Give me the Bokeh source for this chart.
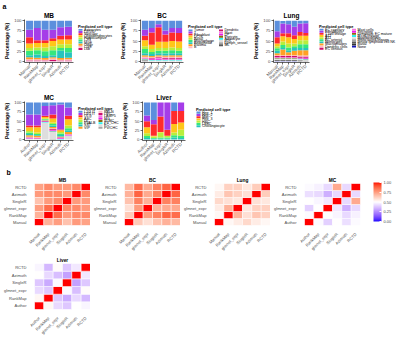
import math
from bokeh.plotting import figure
from bokeh.models import (FactorRange, Range1d, FixedTicker, Title,
                          LinearColorMapper, ColorBar, ColumnDataSource, PrintfTickFormatter)
from bokeh.core.properties import value
from bokeh.layouts import row, column
from bokeh.embed import file_html
from bokeh.resources import INLINE

FONT = "Liberation Sans"
GREY = "#4D4D4D"

# ---------------- data ----------------
methods = ["Manual", "RankMap", "glmnet_expr", "SingleR", "Azimuth", "RCTD"]
methods_author = ["Author", "RankMap", "glmnet_expr", "SingleR", "Azimuth", "RCTD"]
legend_title = "Predicted cell type"

cell_colors = ["#5B8FDD", "#A53DE8", "#FF2B2B", "#FFC61A", "#B8EE3C", "#35E67D",
               "#27C4BE", "#FFA023", "#FFB8C6", "#CC0E6C", "#F57ADB", "#EE1AEE",
               "#8A6A12", "#2EF0F0", "#DEDEDE", "#A6A6A6", "#5A5A5A", "#333333", "#1414B8"]

mb_types = ["Astrocytes", "L4/5/6", "Vascular", "Oligodendrocytes", "Hippocampus",
            "L2/3", "MGE", "Other", "CGE", "L6b"]
mb_pct = [
    [22, 18, 22, 22, 16, 15],
    [19, 30, 26, 21, 21, 21],
    [15, 7, 7, 7, 9, 10],
    [11, 11, 11, 13, 12, 12],
    [7, 7, 9, 10, 9, 9],
    [11, 10, 12, 12, 7, 11],
    [5, 8, 5, 5, 18, 13],
    [5, 4, 4, 3, 4, 4],
    [3, 3, 2, 4, 2, 3],
    [2, 2, 2, 3, 2, 2],
]

bc_types = ["Tumor", "T", "Fibroblast", "DCIS", "Basal", "Macrophage", "Endothelial",
            "Plasma", "B", "Dendritic", "Mast", "LP", "Pericyte", "Adipocyte", "pDC",
            "Lymph_vessel", "ML"]
bc_pct = [
    [22, 18, 9, 24, 18, 18],
    [15, 11, 7, 10, 11, 12],
    [11, 30, 36, 18, 21, 21],
    [15, 11, 15, 15, 16, 16],
    [7, 7, 7, 7, 7, 7],
    [10, 5, 6, 7, 7, 6],
    [5, 5, 5, 5, 5, 5],
    [4, 3, 3, 3, 4, 4],
    [2, 2, 2, 3, 3, 3],
    [1, 1, 2, 2, 2, 2],
    [1, 1, 1, 1, 1, 1],
    [1, 2, 3, 1, 1, 1],
    [1, 1, 1, 1, 1, 1],
    [1, 1, 1, 1, 1, 1],
    [1, 1, 1, 1, 1, 1],
    [1, 1, 1, 1, 1, 1],
    [2, 0, 0, 0, 0, 0],
]

lung_types = ["EC capillary", "Fibroblasts", "T cell lineage", "AT2", "AT1", "EC arterial",
              "Monocytes", "Macrophages", "Dendritic cells", "EC venous", "Mast cells",
              "Secretory", "Lymphatic EC mature", "B cell lineage", "Myofibroblasts",
              "Multiciliated lineage", "Innate lymphoid cell NK", "Basal", "None"]
lung_pct = [
    [26, 6, 9, 15, 7, 6],
    [15, 24, 22, 21, 21, 24],
    [15, 7, 10, 9, 9, 7],
    [7, 13, 15, 11, 11, 11],
    [5, 9, 10, 7, 10, 10],
    [6, 7, 7, 4, 9, 9],
    [6, 4, 5, 7, 6, 6],
    [5, 14, 7, 11, 13, 13],
    [2, 2, 2, 2, 2, 2],
    [3, 3, 3, 3, 3, 3],
    [1, 1, 1, 1, 1, 1],
    [1, 1, 1, 1, 1, 2],
    [1, 1, 1, 1, 1, 1],
    [1, 1, 1, 1, 1, 1],
    [2, 2, 2, 2, 2, 2],
    [1, 1, 1, 1, 1, 1],
    [1, 1, 1, 1, 1, 1],
    [1, 1, 1, 1, 1, 0],
    [1, 1, 1, 1, 0, 0],
]

mc_types = ["L2/3 IT", "L4/5 IT", "OLG", "ASC", "L6", "PVALB", "SST", "VIP",
            "RELN", "OPC", "LAMP5", "MG", "VLMC", "PV_CHC", "EC", "PV/CHC"]
mc_pct = [
    [32, 32, 9, 7, 5, 13],
    [30, 30, 27, 25, 68, 23],
    [5, 5, 3, 11, 2, 9],
    [10, 14, 4, 11, 5, 17],
    [4, 4, 2, 4, 4, 8],
    [4, 3, 2, 4, 4, 5],
    [4, 2, 1, 4, 4, 5],
    [4, 4, 1, 4, 2, 5],
    [2, 2, 1, 2, 1, 2],
    [1, 1, 1, 2, 1, 1],
    [1, 1, 0, 1, 1, 1],
    [1, 1, 1, 2, 2, 1],
    [0, 0, 1, 1, 0, 0],
    [1, 0, 1, 1, 1, 0],
    [1, 1, 46, 20, 0, 10],
    [0, 0, 0, 1, 0, 0],
]

liver_types = ["Hep_1", "Hep_2", "Mac", "Hep_3", "HSC", "LSEC", "Cholangiocyte"]
liver_pct = [
    [35, 47, 0, 0, 23, 0],
    [16, 12, 38, 74, 0, 23],
    [16, 31, 42, 16, 35, 31],
    [16, 2, 1, 1, 23, 20],
    [8, 4, 14, 4, 8, 16],
    [5, 2, 3, 3, 6, 6],
    [4, 2, 2, 2, 5, 4],
]

# correlation matrices (rows = y category, cols = x category)
mb_corr = [
    [1.00, 0.70, 0.75, 0.66, 0.76, 0.74],
    [0.70, 1.00, 0.86, 0.76, 0.80, 0.80],
    [0.75, 0.86, 1.00, 0.80, 0.80, 0.76],
    [0.66, 0.76, 0.80, 1.00, 0.76, 0.76],
    [0.76, 0.80, 0.80, 0.76, 1.00, 0.80],
    [0.74, 0.80, 0.76, 0.76, 0.80, 1.00],
]
bc_corr = [
    [1.00, 0.64, 0.58, 0.66, 0.70, 0.68],
    [0.64, 1.00, 0.76, 0.82, 0.88, 0.86],
    [0.58, 0.76, 1.00, 0.70, 0.72, 0.72],
    [0.66, 0.82, 0.70, 1.00, 0.82, 0.82],
    [0.70, 0.88, 0.72, 0.82, 1.00, 0.88],
    [0.68, 0.86, 0.72, 0.82, 0.88, 1.00],
]
lung_corr = [
    [1.00, 0.52, 0.55, 0.60, 0.55, 0.52],
    [0.52, 1.00, 0.70, 0.58, 0.65, 0.62],
    [0.55, 0.70, 1.00, 0.56, 0.62, 0.62],
    [0.60, 0.58, 0.56, 1.00, 0.58, 0.56],
    [0.55, 0.65, 0.62, 0.58, 1.00, 0.63],
    [0.52, 0.62, 0.62, 0.56, 0.63, 1.00],
]
mc_corr = [
    [1.00, 0.49, 0.40, 0.50, 0.43, 0.49],
    [0.49, 1.00, 0.50, 0.48, 0.42, 0.47],
    [0.40, 0.50, 1.00, 0.45, 0.33, 0.42],
    [0.50, 0.48, 0.45, 1.00, 0.42, 0.72],
    [0.43, 0.42, 0.33, 0.42, 1.00, 0.42],
    [0.49, 0.47, 0.42, 0.72, 0.42, 1.00],
]
liver_corr = [
    [1.00, 0.52, 0.42, 0.38, 0.50, 0.48],
    [0.52, 1.00, 0.38, 0.32, 0.42, 0.35],
    [0.42, 0.38, 1.00, 0.49, 0.36, 0.51],
    [0.38, 0.32, 0.49, 1.00, 0.30, 0.38],
    [0.50, 0.42, 0.36, 0.30, 1.00, 0.45],
    [0.48, 0.35, 0.51, 0.38, 0.45, 1.00],
]
corr_ticks = [0.0, 0.25, 0.5, 0.75, 1.0]

# ---------------- diverging palette (Lab interpolation) ----------------
def _lin(c):
    c = c / 255.0
    return c / 12.92 if c <= 0.04045 else ((c + 0.055) / 1.055) ** 2.4

def _gam(c):
    c = 12.92 * c if c <= 0.0031308 else 1.055 * (max(c, 0) ** (1 / 2.4)) - 0.055
    return int(min(255, max(0, round(c * 255))))

def _f(t):
    return t ** (1 / 3) if t > (6 / 29) ** 3 else t / (3 * (6 / 29) ** 2) + 4 / 29

def _finv(t):
    return t ** 3 if t > 6 / 29 else 3 * (6 / 29) ** 2 * (t - 4 / 29)

def to_lab(rgb):
    r, g, b = (_lin(v) for v in rgb)
    X = (0.4124 * r + 0.3576 * g + 0.1805 * b) / 0.95047
    Y = 0.2126 * r + 0.7152 * g + 0.0722 * b
    Z = (0.0193 * r + 0.1192 * g + 0.9505 * b) / 1.08883
    return (116 * _f(Y) - 16, 500 * (_f(X) - _f(Y)), 200 * (_f(Y) - _f(Z)))

def lab_hex(L, a, b):
    fy = (L + 16) / 116
    X = 0.95047 * _finv(fy + a / 500)
    Y = _finv(fy)
    Z = 1.08883 * _finv(fy - b / 200)
    r = 3.2406 * X - 1.5372 * Y - 0.4986 * Z
    g = -0.9689 * X + 1.8758 * Y + 0.0415 * Z
    bb = 0.0557 * X - 0.2040 * Y + 1.0570 * Z
    return "#%02X%02X%02X" % (_gam(r), _gam(g), _gam(bb))

lab_lo, lab_mid, lab_hi = to_lab((0, 0, 255)), to_lab((255, 255, 255)), to_lab((255, 0, 0))
div_pal = []
for i in range(256):
    t = i / 255
    if t < 0.5:
        s, a0, a1 = t / 0.5, lab_lo, lab_mid
    else:
        s, a0, a1 = (t - 0.5) / 0.5, lab_mid, lab_hi
    div_pal.append(lab_hex(*[a0[k] + (a1[k] - a0[k]) * s for k in range(3)]))

mapper = LinearColorMapper(palette=div_pal, low=0, high=1)

# ---------------- helpers ----------------
def base_fig(x_range, y_range, w, h, bl, br, bt, bb, **kw):
    p = figure(x_range=x_range, y_range=y_range, width=w, height=h,
               output_backend="svg", toolbar_location=None,
               min_border_left=bl, min_border_right=br, min_border_top=bt, min_border_bottom=bb, **kw)
    p.outline_line_color = None
    p.background_fill_color = "white"
    p.border_fill_color = "white"
    return p


def set_titles(p, text, size, letter=None, offset=0):
    main = Title(text=text, align="center", standoff=1, text_color="black",
                 text_font=FONT, text_font_size=size, text_font_style="bold")
    if letter is None:
        p.title = main
    else:
        # panel letter is the outermost title, the panel name sits next to the frame
        p.add_layout(main, "above")
        p.title = Title(text=letter, align="left", offset=offset, standoff=0, text_color="black",
                        text_font=FONT, text_font_size="7px", text_font_style="bold")


def bar_panel(title, cats, types, pct, w, h, bl, bt, bb, letter=None, offset=0):
    p = base_fig(FactorRange(factors=cats, range_padding=0.05), Range1d(-3, 103), w, h, bl, 2, bt, bb)
    p.xgrid.visible = False
    p.ygrid.visible = False
    data = {"method": cats}
    for t, vals in zip(types, pct):
        data[t] = vals
    src = ColumnDataSource(data)
    colors = cell_colors[:len(types)]
    p.vbar_stack(list(reversed(types)), x="method", width=0.9, source=src,
                 fill_color=list(reversed(colors)), line_color=None)
    set_titles(p, title, "6.5px", letter, offset)

    for ax in (p.xaxis[0], p.yaxis[0]):
        ax.axis_line_width = 0.6
        ax.axis_line_color = "black"
        ax.major_tick_line_width = 0.6
        ax.major_tick_line_color = "black"
        ax.major_tick_out = 2
        ax.major_tick_in = 0
        ax.minor_tick_line_color = None
        ax.major_label_text_font = FONT
        ax.major_label_text_font_size = "4.3px"
        ax.major_label_text_color = GREY
        ax.major_label_standoff = 1
    p.xaxis.major_label_orientation = math.pi / 4
    p.yaxis.ticker = FixedTicker(ticks=[0, 25, 50, 75, 100])
    p.yaxis.axis_label = "Percentage (%)"
    p.yaxis.axis_label_text_font = FONT
    p.yaxis.axis_label_text_font_size = "5px"
    p.yaxis.axis_label_text_font_style = "bold"
    p.yaxis.axis_label_text_color = "black"
    p.yaxis.axis_label_standoff = 1
    return p


def legend_panel(types, w, h, x0, col_dx, nrows, title_y, first_y, step=4.44):
    # legend drawn in a pixel-space figure (y grows downward)
    p = base_fig(Range1d(0, w), Range1d(h, 0), w, h, 0, 0, 0, 0,
                 x_axis_type=None, y_axis_type=None)
    n = len(types)
    xs = [x0 + col_dx * (i // nrows) for i in range(n)]
    ys = [first_y + step * (i % nrows) for i in range(n)]
    src = ColumnDataSource({"sx": [x + 2 for x in xs], "tx": [x + 5.5 for x in xs], "y": ys,
                            "label": types, "color": cell_colors[:n]})
    p.rect(x="sx", y="y", width=4, height=4, source=src, fill_color="color", line_color=None)
    p.text(x="tx", y="y", text="label", source=src, text_font=value(FONT),
           text_font_size=value("3.6px"), text_baseline="middle", text_align="left",
           text_color="black")
    p.text(x=[x0 - 0.5], y=[title_y], text=[legend_title], text_font=value(FONT),
           text_font_size=value("3.9px"), text_font_style="bold", text_baseline="middle",
           text_align="left", text_color="black")
    return p


def heat_panel(title, cats, mat, w, h, bl, br, bt, bb, colorbar=False, letter=None, offset=0):
    xs, ys, vs = [], [], []
    for i, yc in enumerate(cats):
        for j, xc in enumerate(cats):
            xs.append(xc)
            ys.append(yc)
            vs.append(mat[i][j])
    src = ColumnDataSource({"x": xs, "y": ys, "v": vs})
    p = base_fig(FactorRange(factors=cats), FactorRange(factors=cats), w, h, bl, br, bt, bb)
    p.xgrid.visible = False
    p.ygrid.visible = False
    p.rect(x="x", y="y", width=1, height=1, source=src,
           fill_color={"field": "v", "transform": mapper}, line_color="white", line_width=0.5)
    set_titles(p, title, "4.8px", letter, offset)
    for ax in (p.xaxis[0], p.yaxis[0]):
        ax.axis_line_color = None
        ax.major_tick_line_color = None
        ax.minor_tick_line_color = None
        ax.major_label_text_font = FONT
        ax.major_label_text_font_size = "4.1px"
        ax.major_label_text_color = GREY
        ax.major_label_standoff = 2
    p.xaxis.major_label_orientation = math.pi / 4
    if colorbar:
        cb = ColorBar(color_mapper=mapper, ticker=FixedTicker(ticks=corr_ticks),
                      formatter=PrintfTickFormatter(format="%.2f"),
                      width=8, height=39, location=(13, 4), padding=0, margin=0,
                      major_label_text_font=FONT, major_label_text_font_size="4px",
                      major_label_text_color=GREY, label_standoff=2,
                      major_tick_line_color="white", major_tick_in=2, major_tick_out=0,
                      minor_tick_line_color=None, bar_line_color=None,
                      background_fill_alpha=0, border_line_color=None)
        p.add_layout(cb, "right")
    return p

# ---------------- panels ----------------
# row 1 (y 0-90)
p_mb = bar_panel("MB", methods, mb_types, mb_pct, 75, 90, 24, 17, 28, letter="a", offset=-22)
l_mb = legend_panel(mb_types, 42, 90, 3, 0, 10, 15, 21.7)
p_bc = bar_panel("BC", methods, bc_types, bc_pct, 68, 90, 17, 17, 28)
l_bc = legend_panel(bc_types, 65, 90, 3, 30.5, 9, 15.5, 22.8)
p_lung = bar_panel("Lung", methods, lung_types, lung_pct, 61, 90, 17, 17, 28)
l_lung = legend_panel(lung_types, 89, 90, 8, 32.5, 10, 15, 21.2)

# row 2 (y 90-166)
p_mc = bar_panel("MC", methods_author, mc_types, mc_pct, 75, 76, 24, 11, 21)
l_mc = legend_panel(mc_types, 44, 76, 3, 20, 8, 13.3, 20.0)
p_liver = bar_panel("Liver", methods_author, liver_types, liver_pct, 68, 76, 18, 11, 21)
l_liver = legend_panel(liver_types, 73, 76, 9, 0, 7, 15, 21.7)

# row 3 (y 166-255)
h_mb = heat_panel("MB", methods, mb_corr, 90, 89, 30, 0, 15, 22, letter="b", offset=-28)
h_bc = heat_panel("BC", methods, bc_corr, 90, 89, 30, 0, 15, 22)
h_lung = heat_panel("Lung", methods, lung_corr, 90, 89, 30, 0, 15, 22)
h_mc = heat_panel("MC", methods_author, mc_corr, 130, 89, 30, 40, 15, 22, colorbar=True)

# row 4 (y 255-339)
h_liver = heat_panel("Liver", methods_author, liver_corr, 90, 84, 30, 0, 8, 24)

layout = column(row(p_mb, l_mb, p_bc, l_bc, p_lung, l_lung),
                row(p_mc, l_mc, p_liver, l_liver),
                row(h_mb, h_bc, h_lung, h_mc),
                row(h_liver))

open("out.html", "w").write(file_html(layout, INLINE))
